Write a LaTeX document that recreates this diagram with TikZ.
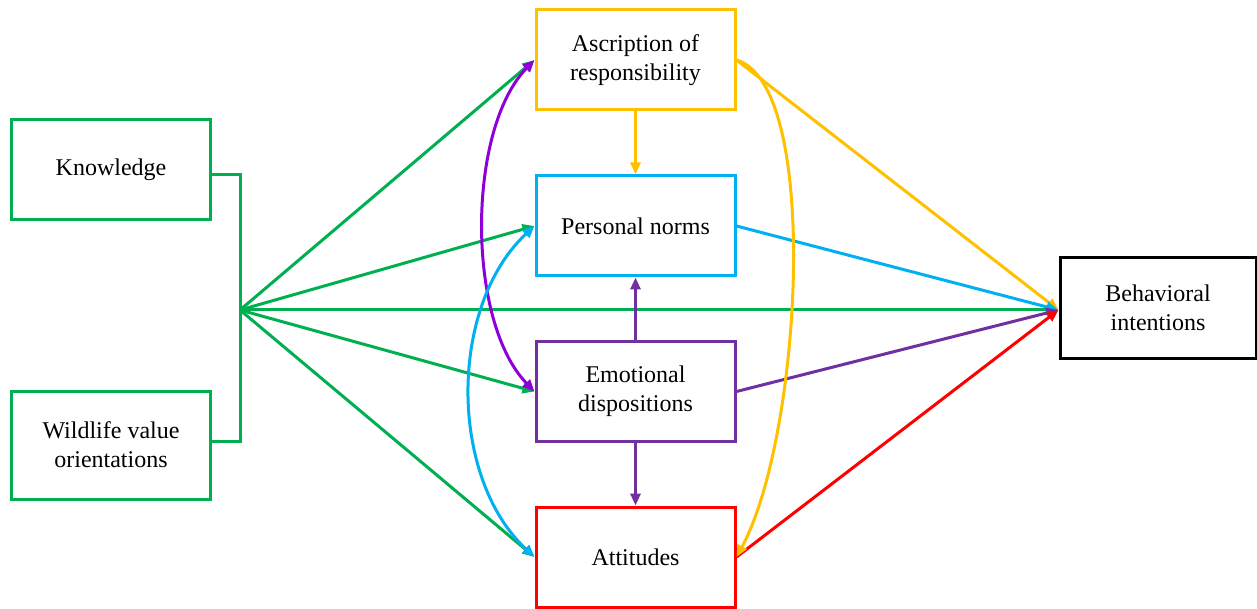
\documentclass[tikz,border=0pt]{standalone}
\usepackage{fontspec}
\setmainfont{Liberation Serif}
\usetikzlibrary{arrows.meta}
\definecolor{cgreen}{HTML}{00B050}
\definecolor{cyellow}{HTML}{FFC000}
\definecolor{cblue}{HTML}{00B0F0}
\definecolor{cpurple}{HTML}{7030A0}
\definecolor{cviolet}{HTML}{8F00D8}
\definecolor{cred}{HTML}{FF0000}
\begin{document}
\begin{tikzpicture}[x=1pt,y=-1pt,
  box/.style={draw, line width=3pt, minimum width=199pt, minimum height=100pt, align=center, font=\fontsize{24}{29}\selectfont, inner sep=0pt},
  conn/.style={line width=3pt},
  arr/.style={line width=3pt, -{Triangle[length=12pt,width=10pt]}},
  darr/.style={line width=3pt, {Triangle[length=12pt,width=10pt]}-{Triangle[length=12pt,width=10pt]}}]
\useasboundingbox (0,0) rectangle (1257,609);
\node[box, cgreen, text=black] (kn) at (111,170) {Knowledge};
\node[box, cgreen, text=black, minimum height=108pt] (wv) at (111,445) {Wildlife value\\orientations};
\node[box, cyellow, text=black] (as) at (635.5,60) {Ascription of\\responsibility};
\node[box, cblue, text=black] (pn) at (635.5,226) {Personal norms};
\node[box, cpurple, text=black] (em) at (635.5,391.5) {Emotional\\dispositions};
\node[box, cred, text=black] (at) at (635.5,557) {Attitudes};
\node[box, black, minimum width=196pt] (bi) at (1158,308) {Behavioral\\intentions};
\coordinate (hub) at (240,310);
\coordinate (kc) at (kn.east |- 0,175);
\coordinate (wc) at (wv.east |- 0,441);
\coordinate (bt) at (bi.west |- 0,310);
% bracket
\draw[conn, cgreen] (kc) -- (240,175) -- (240,441) -- (wc);
% green arrows
\draw[arr, cgreen] (hub) -- (as.west);
\draw[arr, cgreen] (hub) -- (pn.west);
\draw[arr, cgreen] (hub) -- (bt);
\draw[arr, cgreen] (hub) -- (em.west);
\draw[arr, cgreen] (hub) -- (at.west);
% curved double arrows
\draw[darr, cviolet] (as.west) .. controls +(-68,70) and +(-68,-70) .. (em.west);
\draw[darr, cblue] (pn.west) .. controls +(-86,80) and +(-86,-80) .. (at.west);
% yellow
\draw[arr, cyellow] (as.south) -- (pn.north);
\draw[arr, cyellow] (as.east) -- (bt);
% blue
\draw[arr, cblue] (pn.east) -- (bt);
% purple
\draw[arr, cpurple] (em.north) -- (pn.south);
\draw[arr, cpurple] (em.south) -- (at.north);
\draw[arr, cpurple] (em.east) -- (bt);
% red
\draw[arr, cred] (at.east) -- (bt);
\draw[arr, cyellow] (as.east) .. controls +(85,25) and +(65,-120) .. (at.east);
\end{tikzpicture}
\end{document}
